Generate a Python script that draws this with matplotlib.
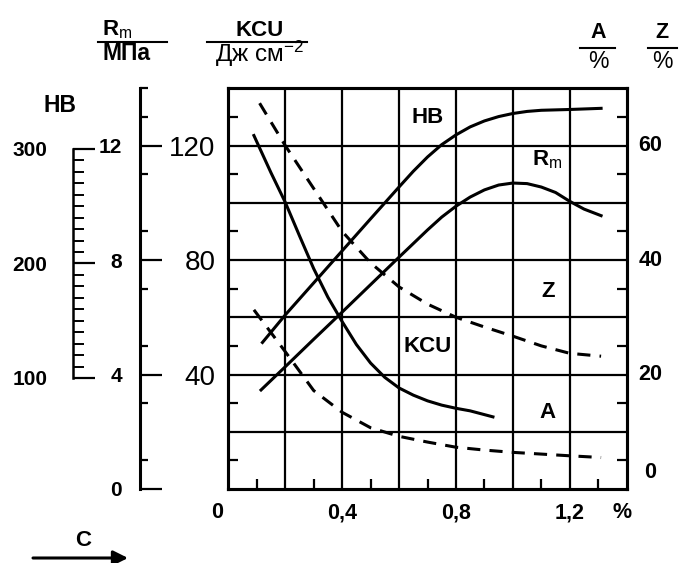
import matplotlib
matplotlib.use('Agg')
import matplotlib.pyplot as plt
from matplotlib.lines import Line2D
from matplotlib.ticker import FixedLocator, NullFormatter
import matplotlib.transforms as mtransforms

plt.rcParams['font.family'] = ['Liberation Sans', 'DejaVu Sans']
plt.rcParams['mathtext.fontset'] = 'custom'
plt.rcParams['mathtext.rm'] = 'Liberation Sans'
plt.rcParams['mathtext.bf'] = 'Liberation Sans:bold'
plt.rcParams['mathtext.it'] = 'Liberation Sans:italic'

# ---------------- data (carbon content, %) ----------------
c_hb = [0.12, 0.2, 0.3, 0.4, 0.5, 0.6, 0.65, 0.7, 0.75, 0.8, 0.85, 0.9, 0.95, 1.0, 1.05, 1.1, 1.2, 1.31]
hb = [131, 155, 183, 211, 239, 266.8, 280.5, 293, 303.8, 312.3, 319.3, 324.5, 328.3, 331, 332.8, 333.8, 334.5, 335.5]

c_rm = [0.115, 0.2, 0.3, 0.4, 0.5, 0.6, 0.7, 0.75, 0.8, 0.85, 0.9, 0.95, 1.0, 1.05, 1.1, 1.15, 1.2, 1.25, 1.31]
rm = [3.46, 4.27, 5.23, 6.18, 7.14, 8.1, 9.05, 9.5, 9.88, 10.2, 10.45, 10.62, 10.69, 10.67, 10.55, 10.36, 10.05, 9.78, 9.55]

c_kcu = [0.09, 0.15, 0.2, 0.25, 0.3, 0.35, 0.4, 0.45, 0.5, 0.55, 0.6, 0.65, 0.7, 0.75, 0.8, 0.85, 0.93]
kcu = [123.5, 110.5, 100.2, 88.5, 77.0, 67.0, 58.5, 50.5, 44.0, 39.0, 35.3, 32.8, 30.8, 29.3, 28.2, 27.3, 25.2]

c_z = [0.11, 0.2, 0.3, 0.4, 0.5, 0.6, 0.7, 0.8, 0.9, 1.0, 1.1, 1.2, 1.31]
z = [67.4, 60.0, 52.5, 45.0, 39.5, 35.3, 32.3, 30.0, 28.3, 26.7, 25.0, 23.7, 23.2]

c_a = [0.09, 0.2, 0.3, 0.4, 0.5, 0.6, 0.7, 0.8, 0.9, 1.0, 1.1, 1.2, 1.31]
a = [31.3, 24.0, 17.2, 13.4, 10.7, 9.2, 8.2, 7.3, 6.8, 6.4, 6.1, 5.8, 5.5]

x_labels = ['0', '0,4', '0,8', '1,2', '%']
x_label_pos = [-0.04, 0.4, 0.8, 1.2, 1.385]
kcu_ticks = [20, 40, 60, 80, 100, 120]
kcu_labels = ['', '40', '', '80', '', '120']
rm_ticks = [0, 4, 8, 12]
hb_ticks = [100, 200, 300]
az_labels = ['0', '20', '40', '60']
az_label_pos = [2.8, 20, 40, 60]

# ---------------- figure ----------------
W, H = 683, 563
fig = plt.figure(figsize=(W / 100, H / 100), dpi=100)
PT = 72 / 100.0


def fx(px):
    return px / W


def fy(py):
    return 1 - py / H


L, R, T, B = 228.3, 626.7, 88.3, 489.0
pos = [fx(L), fy(B), (R - L) / W, (B - T) / H]
LW = 2.2
SPW = 2.2

ax = fig.add_axes(pos)
ax.set_xlim(0, 1.4)
ax.set_ylim(0, 140)
for s in ax.spines.values():
    s.set_linewidth(SPW)
ax.set_xticks([0.2, 0.4, 0.6, 0.8, 1.0, 1.2])
ax.xaxis.set_major_formatter(NullFormatter())
ax.set_yticks(kcu_ticks)
ax.set_yticklabels(kcu_labels, fontsize=20)
ax.tick_params(axis='both', which='major', length=0)
ax.tick_params(axis='y', which='major', pad=13 * PT)
ax.grid(True, color='black', lw=1.6)
ax.xaxis.set_minor_locator(FixedLocator([0.1, 0.3, 0.5, 0.7, 0.9, 1.1, 1.3]))
ax.yaxis.set_minor_locator(FixedLocator([10, 30, 50, 70, 90, 110, 130]))
ax.tick_params(axis='both', which='minor', direction='in', length=10 * PT, width=1.6)

ax.plot(c_kcu, kcu, color='black', lw=LW, solid_joinstyle='round')

xt = mtransforms.blended_transform_factory(ax.transData, ax.transAxes)
for lab, xp in zip(x_labels, x_label_pos):
    ax.text(xp, -(513 - B) / (B - T), lab, transform=xt, ha='center', va='center',
            fontsize=15.5, fontweight='bold')

# A / Z axis (right)
ax_az = ax.twinx()
ax_az.set_ylim(0, 70)
ax_az.set_yticks([])
ax_az.yaxis.set_minor_locator(FixedLocator([5, 15, 25, 35, 45, 55, 65]))
ax_az.tick_params(axis='y', which='minor', direction='in', length=10 * PT, width=1.6)
for s in ax_az.spines.values():
    s.set_linewidth(SPW)
ax_az.plot(c_z, z, color='black', lw=LW, dashes=(4.3, 3.0))
ax_az.plot(c_a, a, color='black', lw=LW, dashes=(4.3, 3.0))
yt = ax_az.get_yaxis_transform()
for lab, yp in zip(az_labels, az_label_pos):
    ax_az.text((650.5 - L) / (R - L), yp, lab, transform=yt, ha='center', va='center',
               fontsize=15.5, fontweight='bold')

# Rm axis
ax_rm = fig.add_axes(pos, sharex=ax)
ax_rm.set_facecolor('none')
for k in ['top', 'right', 'bottom']:
    ax_rm.spines[k].set_visible(False)
ax_rm.spines['left'].set_position(('outward', (L - 140) * PT))
ax_rm.spines['left'].set_linewidth(SPW)
ax_rm.xaxis.set_visible(False)
ax_rm.set_ylim(0, 14)
ax_rm.set_yticks(rm_ticks)
ax_rm.set_yticklabels([str(v) for v in rm_ticks], fontsize=15, fontweight='bold')
ax_rm.yaxis.set_minor_locator(FixedLocator([1, 3, 5, 7, 9, 11, 13, 14]))
ax_rm.tick_params(axis='y', which='major', direction='in', length=22 * PT, width=1.6, pad=18 * PT)
ax_rm.tick_params(axis='y', which='minor', direction='in', length=8 * PT, width=1.6)
ax_rm.plot(c_rm, rm, color='black', lw=LW, solid_joinstyle='round')

# HB axis
ax_hb = fig.add_axes(pos, sharex=ax)
ax_hb.set_facecolor('none')
for k in ['top', 'right', 'bottom']:
    ax_hb.spines[k].set_visible(False)
ax_hb.spines['left'].set_position(('outward', (L - 73.3) * PT))
ax_hb.spines['left'].set_linewidth(1.8)
ax_hb.spines['left'].set_bounds(100, 300)
ax_hb.xaxis.set_visible(False)
ax_hb.set_ylim(3, 353)
ax_hb.set_yticks(hb_ticks)
ax_hb.set_yticklabels([str(v) for v in hb_ticks], fontsize=15, fontweight='bold')
ax_hb.yaxis.set_minor_locator(FixedLocator([v for v in range(110, 300, 10) if v != 200]))
ax_hb.tick_params(axis='y', which='major', direction='in', length=22 * PT, width=1.6, pad=26 * PT)
ax_hb.tick_params(axis='y', which='minor', direction='in', length=11 * PT, width=1.4)
ax_hb.plot(c_hb, hb, color='black', lw=LW, solid_joinstyle='round')


# curve labels (in KCU data coords of main axes)
def dx(px):
    return (px - L) / (R - L) * 1.4


def dy(py):
    return (B - py) / (B - T) * 140


ax.text(dx(428), dy(118), 'HB', ha='center', va='center', fontsize=16, fontweight='bold')
ax.text(dx(547), dy(160), r'$\mathbf{R}_{\mathrm{m}}$', ha='center', va='center', fontsize=16)
ax.text(dx(548), dy(292), 'Z', ha='center', va='center', fontsize=16, fontweight='bold')
ax.text(dx(428), dy(347), 'KCU', ha='center', va='center', fontsize=16, fontweight='bold')
ax.text(dx(548), dy(413), 'A', ha='center', va='center', fontsize=16, fontweight='bold')

# headers
fig.text(fx(60), fy(105), 'HB', ha='center', va='center', fontsize=16.5, fontweight='bold')
fig.text(fx(117), fy(30), r'$\mathbf{R}_{\mathrm{m}}$', ha='center', va='center', fontsize=16)
fig.text(fx(126), fy(54), 'МПа', ha='center', va='center', fontsize=16.5, fontweight='bold')
fig.text(fx(260), fy(30), 'KCU', ha='center', va='center', fontsize=16, fontweight='bold')
fig.text(fx(259), fy(54), r'Дж см$^{-2}$', ha='center', va='center', fontsize=17.5)
fig.text(fx(598), fy(33), 'A', ha='center', va='center', fontsize=15.5, fontweight='bold')
fig.text(fx(598), fy(61), '%', ha='center', va='center', fontsize=16.5)
fig.text(fx(662), fy(33), 'Z', ha='center', va='center', fontsize=15.5, fontweight='bold')
fig.text(fx(662), fy(61), '%', ha='center', va='center', fontsize=16.5)
for x0, x1, yy in [(98, 167, 42), (207, 307, 42), (580, 615, 48), (648, 677, 48)]:
    fig.add_artist(Line2D([fx(x0), fx(x1)], [fy(yy), fy(yy)], transform=fig.transFigure,
                          color='black', lw=1.5))

# carbon arrow
fig.text(fx(83), fy(540), 'C', ha='center', va='center', fontsize=16, fontweight='bold')
ax.annotate('', xy=(fx(128), fy(558)), xytext=(fx(33), fy(558)),
            xycoords='figure fraction', textcoords='figure fraction',
            arrowprops=dict(arrowstyle='-|>', lw=2.2, color='black', mutation_scale=22,
                            shrinkA=0, shrinkB=0))

fig.savefig('out.png', dpi=100)
